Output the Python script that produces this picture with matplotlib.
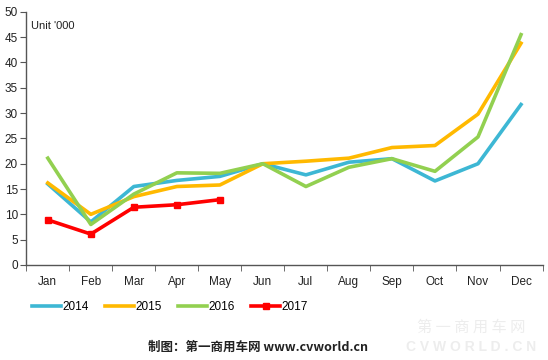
import numpy as np
import matplotlib.pyplot as plt

plt.rcParams['font.family'] = ['Liberation Sans', 'Noto Sans CJK SC', 'DejaVu Sans']

months = ['Jan', 'Feb', 'Mar', 'Apr', 'May', 'Jun', 'Jul', 'Aug', 'Sep', 'Oct', 'Nov', 'Dec']
sales_2014 = [16.0, 8.5, 15.5, 16.7, 17.5, 20.0, 17.8, 20.3, 21.0, 16.6, 20.0, 31.7]
sales_2015 = [16.2, 10.0, 13.5, 15.5, 15.8, 20.0, 20.5, 21.1, 23.2, 23.6, 29.8, 43.8]
sales_2016 = [21.1, 8.0, 14.0, 18.2, 18.1, 20.0, 15.5, 19.3, 21.0, 18.5, 25.3, 45.5]
sales_2017 = [8.9, 6.1, 11.4, 11.9, 12.9]

fig = plt.figure(figsize=(5.48, 3.6), dpi=100)
ax = fig.add_axes([0.048, 0.264, 0.942, 0.703])

x = np.arange(len(months))
ax.plot(x, sales_2014, color='#3DB7D4', linewidth=2.6, label='2014')
ax.plot(x, sales_2015, color='#FFB900', linewidth=2.6, label='2015')
ax.plot(x, sales_2016, color='#92D050', linewidth=2.6, label='2016')
ax.plot(x[:len(sales_2017)], sales_2017, color='#FF0000', linewidth=2.6,
        marker='s', markersize=5, label='2017')

ax.set_xlim(-0.5, len(months) - 0.5)
ax.set_ylim(0, 50)
ax.set_yticks(range(0, 51, 5))
ax.set_xticks(x)
ax.set_xticklabels(months)
ax.set_xticks(np.arange(-0.5, len(months)), minor=True)
ax.tick_params(axis='x', which='major', length=0, pad=8, labelsize=8.5, colors='#222222')
ax.tick_params(axis='x', which='minor', length=4, color='#555555', direction='out')
ax.tick_params(axis='y', length=4, labelsize=8.5, colors='#222222', pad=2)
ax.tick_params(axis='y', color='#555555')

for side in ['top', 'right']:
    ax.spines[side].set_visible(False)
for side in ['left', 'bottom']:
    ax.spines[side].set_color('#555555')
    ax.spines[side].set_linewidth(1.0)

ax.text(0.01, 0.965, "Unit '000", transform=ax.transAxes, fontsize=8, color='#222222',
        ha='left', va='top')

ax.legend(loc='upper left', bbox_to_anchor=(-0.01, -0.1), ncol=4, frameon=False,
          fontsize=8.5, handlelength=2.5, handletextpad=0.1, columnspacing=1.35)

fig.text(0.47, 0.035, '制图：第一商用车网 www.cvworld.cn', ha='center', va='center',
         fontsize=9, fontweight='bold', color='#222222',
         family=['Noto Sans CJK SC', 'DejaVu Sans'])

fig.text(0.86, 0.09, '第 一 商 用 车 网', ha='center', va='center', fontsize=11,
         color='#EDEDED', family=['Noto Sans CJK SC', 'DejaVu Sans'])
fig.text(0.86, 0.035, 'C V W O R L D . C N', ha='center', va='center', fontsize=10,
         fontweight='bold', color='#EDEDED')

fig.savefig('out.png', dpi=100)
plt.close(fig)
